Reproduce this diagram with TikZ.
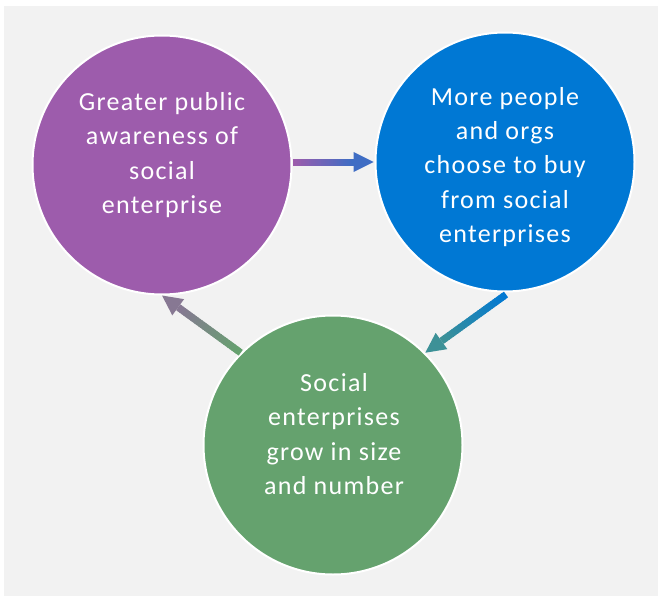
\documentclass[tikz,border=0pt]{standalone}
\usepackage{fontspec}
\setmainfont{Carlito}
\newfontfamily\lblfont[LetterSpace=5]{Carlito}
\usetikzlibrary{calc}
\definecolor{bgc}{HTML}{F2F2F2}
\definecolor{purp}{RGB}{157,92,172}
\definecolor{blu}{RGB}{0,120,212}
\definecolor{grn}{RGB}{101,162,110}
\tikzset{
  circ/.style={circle, draw=white, line width=2pt, minimum size=259pt, inner sep=0pt},
  lbl/.style={text=white, align=center, font=\lblfont\fontsize{26}{34.2}\selectfont, inner sep=0pt},
}
% gradient arrow: #1 start, #2 tip, #3 start colour, #4 end colour
\newcommand{\gradarrow}[4]{%
  \coordinate (gaH) at ($(#2)!20pt!(#1)$);
  \foreach \i in {0,...,29}{%
    \pgfmathsetmacro\gs{\i/30}%
    \pgfmathsetmacro\ge{min(1,(\i+1.6)/30)}%
    \pgfmathtruncatemacro\gp{round(60*\i/29)}%
    \draw[line width=7pt, draw=#4!\gp!#3] ($(#1)!\gs!(gaH)$) -- ($(#1)!\ge!(gaH)$);
  }
  \fill[#4!60!#3] (#2) -- ($(gaH)!10pt!90:(#2)$) -- ($(gaH)!10pt!-90:(#2)$) -- cycle;
}
\begin{document}
\begin{tikzpicture}[x=1pt,y=-1pt]
\useasboundingbox (0,0) rectangle (659,597);
\fill[white] (0,0) rectangle (659,597);
\fill[bgc] (4,6) rectangle (658,596);

\node[circ, fill=purp] (p) at (162,165) {};
\node[circ, fill=blu] (b) at (505,162) {};
\node[circ, fill=grn] (g) at (333,445) {};

\node[lbl] (pt) at (162,155) {Greater public\\awareness of\\social\\enterprise};
\node[lbl] (bt) at (505,167) {More people\\and orgs\\choose to buy\\from social\\enterprises};
\node[lbl] (gt) at (334,434) {Social\\enterprises\\grow in size\\and number};

\coordinate (a1s) at (p.east |- b.west);
\coordinate (a1e) at ($(b.west)+(-1,0)$);
\gradarrow{a1s}{a1e}{purp}{blu}
\coordinate (a2s) at ($(b.270)+(1,2)$);
\coordinate (a2e) at (g.45);
\gradarrow{a2s}{a2e}{blu}{grn}
\coordinate (a3s) at (g.135);
\coordinate (a3e) at (p.270);
\gradarrow{a3s}{a3e}{grn}{purp}
\end{tikzpicture}
\end{document}
